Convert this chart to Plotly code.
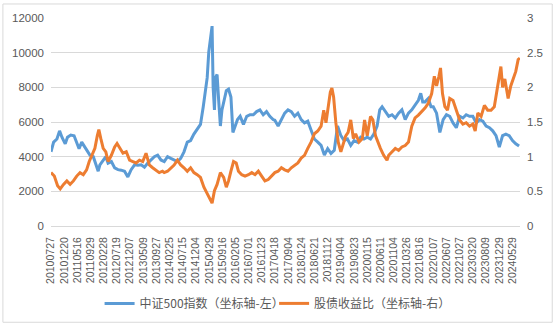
import plotly.graph_objects as go

# Trading-day labels shown on the category axis (one every 100 sessions)
tick_dates = [
    "20100727", "20101220", "20110516", "20110929", "20120228", "20120719",
    "20121207", "20130509", "20130927", "20140225", "20140715", "20141204",
    "20150429", "20150916", "20160205", "20160701", "20161123", "20170418",
    "20170904", "20180124", "20180621", "20181112", "20190404", "20190823",
    "20200115", "20200611", "20201104", "20210326", "20210816", "20220107",
    "20220607", "20221027", "20230320", "20230809", "20231229", "20240529",
]
sessions_per_tick = 100
total_sessions = 3558

# CSI 500 index level (left axis): session number and close
csi500_day = [
    0, 20, 45, 65, 83, 108, 125, 150, 175, 195, 213, 233, 250, 270, 295, 321,
    346, 358, 371, 396, 416, 433, 458, 483, 508, 533, 558, 583, 608, 634, 659,
    684, 709, 734, 759, 784, 809, 834, 859, 884, 909, 934, 959, 984, 1009,
    1034, 1059, 1084, 1109, 1134, 1155, 1172, 1185, 1197, 1210, 1222, 1230,
    1240, 1247, 1260, 1272, 1285, 1297, 1315, 1330, 1347, 1365, 1380, 1397,
    1415, 1435, 1460, 1485, 1510, 1535, 1560, 1585, 1610, 1635, 1660, 1685,
    1698, 1723, 1748, 1773, 1798, 1823, 1848, 1873, 1898, 1923, 1948, 1973,
    1998, 2024, 2049, 2074, 2099, 2124, 2149, 2174, 2199, 2224, 2249, 2274,
    2299, 2324, 2349, 2374, 2399, 2424, 2449, 2474, 2494, 2512, 2537, 2562,
    2587, 2612, 2637, 2662, 2687, 2712, 2737, 2762, 2787, 2805, 2820, 2837,
    2862, 2883, 2900, 2925, 2950, 2975, 3000, 3025, 3050, 3075, 3100, 3125,
    3150, 3175, 3200, 3226, 3251, 3276, 3301, 3326, 3351, 3376, 3401, 3426,
    3451, 3476, 3501, 3526, 3551,
]
csi500_val = [
    4280, 4840, 5020, 5490, 5120, 4740, 5120, 5250, 5210, 4840, 4460, 4840,
    4650, 4370, 4090, 4000, 3350, 3160, 3530, 3810, 4000, 3630, 3720, 3350,
    3250, 3220, 3160, 2830, 3250, 3530, 3500, 3530, 3390, 3630, 3810, 4000,
    4090, 3810, 3720, 4000, 3900, 3810, 3720, 3900, 4280, 4840, 4930, 5300,
    5580, 5860, 6880, 8000, 8560, 10040, 10970, 11530, 8000, 6700, 8560, 8740,
    7250, 5770, 6700, 7250, 7810, 7900, 7440, 5400, 5770, 6140, 6330, 5860,
    6330, 6420, 6420, 6600, 6700, 6420, 6600, 6330, 6140, 6100, 5770, 6140,
    6510, 6700, 6600, 6330, 6510, 6140, 5950, 6050, 5580, 5020, 4840, 4650,
    4090, 4460, 4190, 4370, 5770, 5210, 4930, 5020, 4650, 4930, 4840, 5120,
    5020, 5120, 5020, 5300, 5770, 6700, 6880, 6600, 6330, 6420, 6230, 6510,
    6700, 6140, 6510, 6700, 6980, 7250, 7660, 7160, 7160, 7350, 6880, 6880,
    6510, 5400, 6140, 6420, 6330, 5950, 5670, 6330, 6230, 6420, 6330, 6330,
    5950, 6140, 6050, 5770, 5670, 5490, 5210, 4560, 5210, 5300, 5210, 4930,
    4740, 4610,
]

# Equity/bond yield ratio (right axis): session number and ratio
ratio_day = [
    0, 25, 50, 70, 95, 120, 145, 170, 195, 220, 245, 270, 290, 308, 333, 351,
    363, 378, 396, 416, 433, 458, 483, 501, 521, 546, 571, 596, 621, 646, 671,
    696, 721, 746, 771, 796, 821, 846, 859, 884, 909, 934, 959, 984, 1009,
    1034, 1059, 1084, 1109, 1134, 1160, 1185, 1210, 1222, 1240, 1260, 1285,
    1310, 1330, 1347, 1365, 1385, 1405, 1422, 1447, 1472, 1498, 1523, 1548,
    1573, 1598, 1623, 1648, 1673, 1698, 1723, 1748, 1773, 1798, 1823, 1848,
    1873, 1898, 1923, 1948, 1973, 1998, 2024, 2049, 2069, 2086, 2104, 2119,
    2131, 2144, 2161, 2179, 2199, 2219, 2236, 2254, 2274, 2294, 2311, 2337,
    2362, 2379, 2399, 2424, 2442, 2462, 2479, 2499, 2524, 2549, 2562, 2587,
    2612, 2637, 2662, 2687, 2712, 2737, 2762, 2787, 2812, 2837, 2862, 2888,
    2908, 2925, 2943, 2955, 2970, 2988, 3008, 3025, 3050, 3075, 3100, 3125,
    3150, 3175, 3200, 3218, 3238, 3263, 3288, 3313, 3338, 3363, 3383, 3401,
    3413, 3426, 3443, 3458, 3468, 3488, 3509, 3526, 3544, 3557,
]
ratio_val = [
    0.77, 0.72, 0.58, 0.535, 0.60, 0.65, 0.60, 0.65, 0.72, 0.77, 0.74, 0.81,
    0.93, 1.02, 1.12, 1.30, 1.39, 1.26, 1.12, 1.07, 0.93, 1.02, 1.14, 1.19,
    1.12, 1.05, 1.07, 0.95, 0.93, 0.91, 0.95, 0.93, 1.05, 0.88, 0.84, 0.81,
    0.77, 0.79, 0.77, 0.79, 0.84, 0.88, 0.95, 0.88, 0.84, 0.79, 0.84, 0.77,
    0.74, 0.70, 0.56, 0.47, 0.37, 0.33, 0.51, 0.60, 0.77, 0.70, 0.56, 0.65,
    0.79, 0.93, 0.91, 0.79, 0.74, 0.72, 0.74, 0.77, 0.74, 0.79, 0.72, 0.65,
    0.67, 0.72, 0.77, 0.79, 0.84, 0.81, 0.79, 0.84, 0.88, 0.91, 0.98, 1.02,
    1.12, 1.21, 1.33, 1.37, 1.44, 1.67, 1.49, 1.72, 1.93, 1.99, 1.86, 1.49,
    1.21, 1.07, 1.21, 1.30, 1.35, 1.53, 1.26, 1.33, 1.21, 1.26, 1.53, 1.30,
    1.58, 1.53, 1.30, 1.21, 1.12, 1.02, 0.95, 1.02, 1.07, 1.12, 1.09, 1.14,
    1.16, 1.21, 1.44, 1.56, 1.60, 1.65, 1.70, 1.77, 1.91, 2.16, 2.02, 2.16,
    2.28, 1.91, 1.72, 1.67, 1.84, 1.81, 1.67, 1.53, 1.47, 1.49, 1.44, 1.47,
    1.37, 1.63, 1.58, 1.74, 1.67, 1.67, 1.72, 1.95, 2.19, 2.30, 2.00, 2.12,
    1.95, 1.84, 2.02, 2.12, 2.23, 2.40, 2.42,
]

BLUE = "#5B9BD5"
ORANGE = "#ED7D31"
GRID = "#D9D9D9"
TEXT = "#595959"
NUM_FONT = "Liberation Sans"
CJK_FONT = "Noto Sans CJK SC"

fig = go.Figure()
fig.add_trace(go.Scatter(
    x=csi500_day, y=csi500_val, mode="lines", name="中证500指数（坐标轴-左）",
    line=dict(color=BLUE, width=3), yaxis="y", legend="legend",
))
fig.add_trace(go.Scatter(
    x=ratio_day, y=ratio_val, mode="lines", name="股债收益比（坐标轴-右）",
    line=dict(color=ORANGE, width=3), yaxis="y2", legend="legend2",
))

L, R, T, B = 49, 33, 15, 100
W, H = 555, 330
pw, ph = W - L - R, H - T - B


def legend_at(px_left):
    return dict(
        orientation="h", x=(px_left - L) / pw, xanchor="left",
        y=(H - B - 310) / ph, yanchor="middle",
        font=dict(family=CJK_FONT, size=12, color=TEXT),
        itemwidth=30, bgcolor="rgba(0,0,0,0)", borderwidth=0,
    )


fig.update_layout(
    width=W, height=H,
    margin=dict(l=L, r=R, t=T, b=B, pad=0),
    paper_bgcolor="white", plot_bgcolor="white",
    font=dict(family=NUM_FONT, size=11, color=TEXT),
    showlegend=True,
    legend=legend_at(98),
    legend2=legend_at(274),
    xaxis=dict(
        range=[0, total_sessions],
        tickmode="array",
        tickvals=[i * sessions_per_tick for i in range(len(tick_dates))],
        ticktext=tick_dates,
        tickangle=-90,
        tickfont=dict(family=NUM_FONT, size=10.5, color=TEXT),
        ticklabelstandoff=6,
        showgrid=False, zeroline=False,
        showline=True, linecolor=GRID, linewidth=1,
        ticks="",
    ),
    yaxis=dict(
        range=[0, 12000], dtick=2000, tickformat="d",
        showgrid=True, gridcolor=GRID, gridwidth=1,
        zeroline=False, showline=False, ticks="",
        tickfont=dict(family=NUM_FONT, size=11.5, color=TEXT),
        ticklabelstandoff=6,
    ),
    yaxis2=dict(
        range=[0, 3], dtick=0.5, overlaying="y", side="right",
        showgrid=False, zeroline=False, showline=False, ticks="",
        tickfont=dict(family=NUM_FONT, size=11.5, color=TEXT),
        ticklabelstandoff=6,
    ),
    shapes=[dict(
        type="rect", xref="paper", yref="paper",
        x0=(0.5 - L) / pw, x1=(W - 0.5 - L) / pw,
        y0=(H - B - (H - 0.5)) / ph, y1=(H - B - 0.5) / ph,
        line=dict(color=GRID, width=1), fillcolor="rgba(0,0,0,0)",
        layer="below",
    )],
)

fig.write_html("out.html")
